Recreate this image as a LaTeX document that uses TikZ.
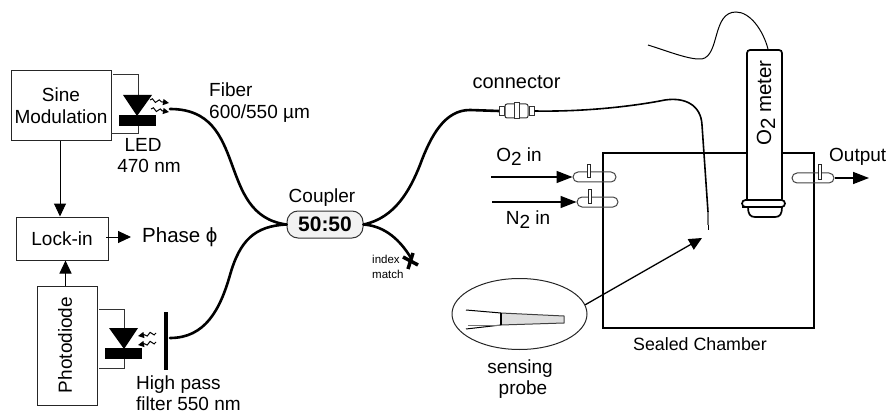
\documentclass[tikz,border=0pt]{standalone}
\usepackage{fontspec}
\setmainfont{Liberation Sans}
\setsansfont{Liberation Sans}
\usepackage{tikz}
\usetikzlibrary{positioning,shapes.geometric,arrows.meta,calc,decorations.pathmorphing}
\definecolor{portStroke}{HTML}{444444}
\definecolor{couplerFill}{HTML}{f2f2f2}
\definecolor{tipFill}{HTML}{dedede}
\newcommand{\lowtwo}{\raisebox{-4pt}{2}}

\begin{document}
\begin{tikzpicture}[
  x=1pt, y=-1pt,
  font=\fontsize{19}{22}\selectfont\sffamily,
  box/.style={draw=black!85, line width=1pt, align=center, inner sep=0pt},
  lbl/.style={align=center, inner sep=0pt},
  wire/.style={draw=black!80, line width=1pt},
  arr/.style={-{Triangle[length=13pt,width=12pt]}, line width=1pt},
  gasarr/.style={-{Triangle[length=16pt,width=12pt]}, line width=1.5pt},
  fiber/.style={line width=2.6pt, line cap=round},
  thinfiber/.style={line width=1.6pt},
  glow/.style={-{Triangle[length=6pt,width=6pt]}, line width=1pt, decorate,
               decoration={snake, amplitude=1.6pt, segment length=7pt, post length=5pt}},
  port/.style={draw=portStroke, line width=1pt, rounded corners=5pt, minimum height=10pt, inner sep=0pt},
  tick/.style={draw=black!85, fill=white, line width=0.7pt, minimum width=2.5pt, inner sep=0pt}
]
\useasboundingbox (0,0) rectangle (888,414);

% ============ LEFT: ELECTRONICS ============
\node[box, minimum width=100pt, minimum height=70pt] (sine) at (61,106) {Sine\\Modulation};
\node[box, minimum width=92pt, minimum height=43pt] (lockin) at (62,238.5) {Lock-in};
\node[box, minimum width=60pt, minimum height=119pt] (photo) at (67,345.5) {};
\node[lbl, rotate=90] (photolbl) at (65,345) {Photodiode};
\node[lbl, anchor=west] (phase) at (142,237) {\fontsize{20.5}{22}\selectfont Phase ϕ};

\coordinate (sineout) at (60,141);
\coordinate (photoout) at (65.5,286);
\coordinate (lockout) at (106,237);
\coordinate (phasein) at (131,237);
\draw[arr] (sineout) -- (sineout |- lockin.north);
\draw[arr] (photoout) -- (photoout |- lockin.south);
\draw[arr] (lockout) -- (phasein);

% ============ LED ============
\draw[wire] (113,75) -- (138,75) -- (138,95);
\draw[wire] (138,126) -- (138,134) -- (111,134);
\fill (123,95) -- (152,95) -- (137,116) -- cycle;
\node[fill=black, minimum width=37pt, minimum height=11pt, inner sep=0pt] (led) at (137.5,120.5) {};
\draw[glow] (150,100) -- (169,103);
\draw[glow] (151,109) -- (169,112);
\node[lbl] (ledlbl) at (143,144.5) {LED};
\node[lbl] (ledwl) at (149,166) {470 nm};
\node[lbl, anchor=west] (fiberlbl) at (209,90) {Fiber};
\node[lbl, anchor=west] (fibersize) at (209,113.5) {600/550 µm};

% ============ DETECTOR AND FILTER ============
\draw[wire] (99,309) -- (124,309) -- (124,328);
\draw[wire] (124,359) -- (124,368) -- (99,368);
\fill (109,328) -- (138,328) -- (124,349) -- cycle;
\node[fill=black, minimum width=37pt, minimum height=11pt, inner sep=0pt] (det) at (123.5,353.5) {};
\draw[glow] (156,333) -- (138,336);
\draw[glow] (156,342) -- (138,345);
\node[fill=black, minimum width=4.5pt, minimum height=58pt, inner sep=0pt] (filter) at (166,341) {};
\node[lbl, anchor=west] (hplbl) at (136,385) {High pass};
\node[lbl, anchor=west] (hpwl) at (136,404) {filter 550 nm};

% ============ COUPLER ============
\node[draw=black!80, fill=couplerFill, rounded corners=11pt, line width=1pt,
      minimum width=76pt, minimum height=27pt, inner sep=0pt,
      font=\fontsize{21}{22}\selectfont\sffamily\bfseries] (coupler) at (325,224.5) {50:50};
\node[lbl, above=4pt of coupler, xshift=-3pt] (couplerlbl) {Coupler};

\coordinate (ledfiber) at (170,109);
\coordinate (detfiber) at (170,338);
\draw[fiber] (ledfiber) .. controls (250,109) and (215,215) .. (coupler.west);
\draw[fiber] (detfiber) .. controls (205,338) and (220,310) .. (230,275)
  .. controls (240,240) and (255,226) .. (coupler.west);
\coordinate (connin) at (499,111);
\coordinate (indexend) at (411,258);
\draw[fiber] (coupler.east) .. controls (395,218) and (410,190) .. (420,165)
  .. controls (431,135) and (445,110) .. (470,110) -- (connin);
\draw[fiber] (coupler.east) .. controls (385,226) and (400,240) .. (indexend);
\draw[line width=3.5pt] (403,257) -- (418,265);
\draw[line width=3.5pt] (413,253) -- (408,269);
\node[lbl, align=left, anchor=north west, font=\fontsize{11.5}{14.5}\selectfont\sffamily] (indexlbl) at (372,255) {index\\match};

% ============ SEALED CHAMBER ============
\node[draw=black, line width=1.7pt, minimum width=211pt, minimum height=175pt, inner sep=0pt] (chamber) at (708.5,240.5) {};
\node[lbl, font=\fontsize{17.8}{22}\selectfont\sffamily, below=9pt of chamber, xshift=-8.5pt] (chamberlbl) {Sealed Chamber};

% connector and probe fibre
\node[draw=black!80, fill=white, line width=1pt, minimum width=23pt, minimum height=14pt, rounded corners=2pt, inner sep=0pt] (conn) at (516.5,111) {};
\node[draw=black!80, fill=white, line width=1pt, minimum width=5pt, minimum height=9pt, left=0pt of conn, inner sep=0pt] (connl) {};
\node[draw=black!80, fill=white, line width=1pt, minimum width=5pt, minimum height=9pt, right=0pt of conn, inner sep=0pt] (connr) {};
\node[draw=black!80, fill=white, line width=1pt, minimum width=5pt, minimum height=16pt, inner sep=0pt] (connm) at (conn) {};
\node[lbl, font=\fontsize{20}{22}\selectfont\sffamily, above=15pt of conn] (connlbl) {connector};
\coordinate (tiptop) at (708,212);
\draw[thinfiber] (connr.east) .. controls (590,112) and (640,105) .. (665,100)
  .. controls (685,97) and (701,105) .. (702,125) -- (tiptop);
\node[fill=black!55, minimum width=2.5pt, minimum height=13pt, inner sep=0pt, below=0pt of tiptop] (tip) {};
\coordinate (tipend) at (708,230);
\draw[line width=1pt] (tip.south) -- (tipend);

% gas ports
\node[port, minimum width=43pt] (o2port) at (594.5,177) {};
\node[port, minimum width=41pt] (n2port) at (597.5,202) {};
\node[port, minimum width=42pt] (outport) at (813,178) {};
\node[tick, minimum height=13pt] (o2tick) at (589,170.5) {};
\node[tick, minimum height=14pt] (n2tick) at (590,196) {};
\node[tick, minimum height=15pt] (outtick) at (820,171.5) {};
\node[lbl] (o2lbl) at (519,157) {O\lowtwo{} in};
\node[lbl] (n2lbl) at (528,220) {N\lowtwo{} in};
\node[lbl, anchor=west] (outlbl) at (829,157) {Output};
\coordinate (o2start) at (491,177);
\coordinate (n2start) at (492,202);
\coordinate (outend) at (869,178);
\draw[gasarr] (o2start) -- (o2port.west);
\draw[gasarr] (n2start) -- (n2port.west);
\draw[gasarr] (outport.east) -- (outend);

% ============ O2 METER ============
\draw[line width=1.7pt, fill=white] (742,207) -- (748,207) .. controls (748,214) and (750,217) .. (755,217)
  -- (775,217) .. controls (780,217) and (782,214) .. (782,207) -- cycle;
\node[draw=black, fill=white, line width=1.7pt, rotate=90, minimum width=152pt, minimum height=35pt,
      rounded corners=3pt, inner sep=0pt] (meter) at (764.5,126) {};
\node[draw=black, fill=white, line width=1.7pt, minimum width=43pt, minimum height=7pt,
      rounded corners=3.5pt, inner sep=0pt] (rim) at (763.5,203.5) {};
\node[lbl, rotate=90, font=\fontsize{20.5}{22}\selectfont\sffamily] (meterlbl) at (766,103) {O\lowtwo{} meter};
\coordinate (cableend) at (648,45);
\coordinate (cabletop) at (768,49);
\draw[line width=1pt] (cableend) .. controls (670,52) and (690,60) .. (702,59)
  .. controls (720,55) and (712,12) .. (736,12) .. controls (750,12) and (763,30) .. (cabletop);

% ============ SENSING PROBE ============
\node[draw=black!85, ellipse, line width=1pt, minimum width=135pt, minimum height=71pt, inner sep=0pt] (probe) at (519.5,314) {};
\draw[draw=black!75, fill=tipFill, line width=1pt] (501,313) -- (564,316) -- (564,323) -- (501,325) -- cycle;
\draw[line width=1pt] (466,310) -- (501,313);
\draw[line width=1pt] (466,329) -- (501,325);
\draw[draw=black!55, line width=1pt] (468,325) -- (501,325);
\draw[line width=1.2pt] (501,313) -- (501,325);
\coordinate (probetip) at (702,238);
\draw[arr, line width=1.3pt] (probe.8) -- (probetip);
\node[lbl] (probelbl) at (520,369) {sensing};
\node[lbl] (probelbl2) at (523,390) {probe};

\end{tikzpicture}
\end{document}
